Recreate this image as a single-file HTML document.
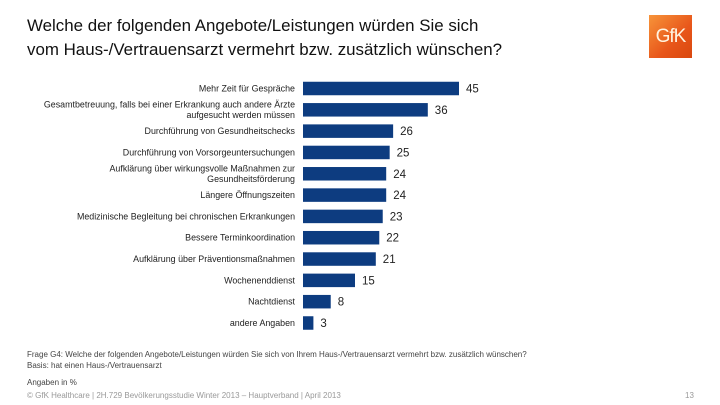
<!DOCTYPE html>
<html><head><meta charset="utf-8"><style>
body{margin:0;width:720px;height:405px;background:#fff;font-family:"Liberation Sans",sans-serif;position:relative;overflow:hidden}
.t{position:absolute;left:27px;top:14px;font-size:16.9px;line-height:24px;color:#111}
.logo{position:absolute;left:649px;top:15px;width:43px;height:43px;background:linear-gradient(135deg,#f7943a,#e8561a 60%,#d9480f);color:#fff4e0;font-size:19px;text-align:center;line-height:43px;letter-spacing:-1px}
.s{position:absolute;font-size:8px;color:#444}
</style></head><body>
<div class="t">Welche der folgenden Angebote/Leistungen würden Sie sich<br>vom Haus-/Vertrauensarzt vermehrt bzw. zusätzlich wünschen?</div>
<div class="logo">GfK</div>
<svg id="c" width="720" height="405" style="position:absolute;left:0;top:0"></svg>
<div class="s" style="left:27px;top:350px">Frage G4: Welche der folgenden Angebote/Leistungen würden Sie sich von Ihrem Haus-/Vertrauensarzt vermehrt bzw. zusätzlich wünschen?</div>
<div class="s" style="left:27px;top:361px">Basis: hat einen Haus-/Vertrauensarzt</div>
<div class="s" style="left:27px;top:378px">Angaben in %</div>
<div class="s" style="left:27px;top:391px;color:#999">© GfK Healthcare | 2H.729 Bevölkerungsstudie Winter 2013 – Hauptverband | April 2013</div>
<div class="s" style="left:685px;top:391px;color:#999">13</div>
<script>
const categories=[["Mehr Zeit für Gespräche"],["Gesamtbetreuung, falls bei einer Erkrankung auch andere Ärzte","aufgesucht werden müssen"],["Durchführung von Gesundheitschecks"],["Durchführung von Vorsorgeuntersuchungen"],["Aufklärung über wirkungsvolle Maßnahmen zur","Gesundheitsförderung"],["Längere Öffnungszeiten"],["Medizinische Begleitung bei chronischen Erkrankungen"],["Bessere Terminkoordination"],["Aufklärung über Präventionsmaßnahmen"],["Wochenenddienst"],["Nachtdienst"],["andere Angaben"]];
const values=[45,36,26,25,24,24,23,22,21,15,8,3];
const svg=document.getElementById('c'),NS='http://www.w3.org/2000/svg';
const x0=303,k=156/45,y0=88.5,step=(323-88.5)/11,bh=13.5;
const xs=v=>x0+v*k, ys=i=>y0+i*step;
values.forEach((v,i)=>{
 const r=document.createElementNS(NS,'rect');
 
 
 r.setAttribute('x',x0);r.setAttribute('y',ys(i)-bh/2);r.setAttribute('width',xs(v)-x0);r.setAttribute('height',bh);r.setAttribute('fill','#0d3c80');
 svg.appendChild(r);
 const t=document.createElementNS(NS,'text');
 
 
 t.setAttribute('x',xs(v)+7);t.setAttribute('y',ys(i)+4);t.setAttribute('font-size','11.5');t.setAttribute('fill','#222');t.textContent=v;
 svg.appendChild(t);
 const lines=categories[i];
 lines.forEach((ln,j)=>{
  const l=document.createElementNS(NS,'text');
  
  
  const off=(j-(lines.length-1)/2)*10.5;
  l.setAttribute('x',295);l.setAttribute('y',ys(i)+off+3);l.setAttribute('text-anchor','end');l.setAttribute('font-size','8.9');l.setAttribute('fill','#222');l.textContent=ln;
  svg.appendChild(l);
 });
});
</script>
</body></html>
